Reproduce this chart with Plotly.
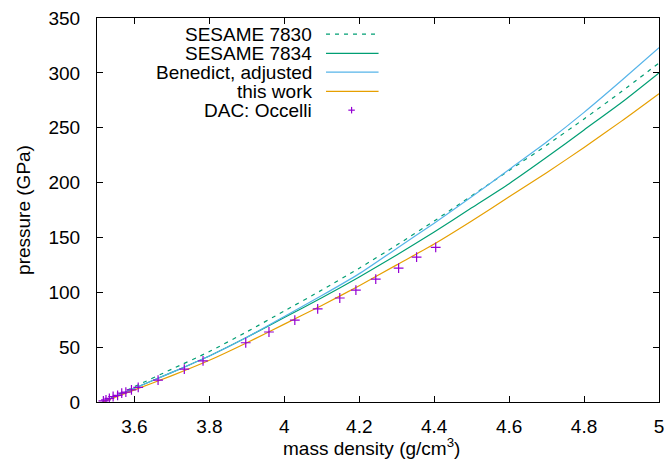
import plotly.graph_objects as go

# ---- data ----
density = [3.515, 3.6, 3.7, 3.8, 3.9, 4.0, 4.1, 4.2, 4.3, 4.4, 4.5, 4.6, 4.7, 4.8, 4.9, 5.0]
sesame_7830 = [0, 14, 30, 46, 64, 83, 102, 122, 143, 165, 188, 211, 234, 258, 283, 309]
sesame_7834 = [0, 12.5, 27, 42, 59, 77, 95, 114, 134, 155, 177, 199, 223, 248, 273, 300]
benedict_adj = [0, 12.5, 27, 42, 59, 78, 97, 117, 140, 163, 187, 212, 237, 264, 293, 323]
this_work = [0, 11, 24, 38, 54, 71, 88, 106, 125, 144, 165, 187, 209, 232, 256, 281]

dac_density = [3.517, 3.524, 3.533, 3.543, 3.555, 3.566, 3.577, 3.592, 3.610, 3.663,
               3.733, 3.783, 3.897, 3.959, 4.028, 4.089, 4.148, 4.191, 4.244, 4.305,
               4.353, 4.404]
dac_pressure = [1, 2, 3.3, 5, 6, 8, 9, 11, 13.4, 20, 30, 37.4, 54, 63.8, 74.7, 84.8,
                94.8, 102, 112, 122, 132, 141]

x_tickvals = [3.6, 3.8, 4.0, 4.2, 4.4, 4.6, 4.8, 5.0]
x_ticktext = ["3.6", "3.8", "4", "4.2", "4.4", "4.6", "4.8", "5"]
y_tickvals = [0, 50, 100, 150, 200, 250, 300, 350]

x_title = "mass density (g/cm<sup>3</sup>)"
y_title = "pressure (GPa)"
legend_labels = ["SESAME 7830", "SESAME 7834", "Benedict, adjusted", "this work", "DAC: Occelli"]

GREEN = "#009e73"
BLUE = "#56b4e9"
ORANGE = "#e69f00"
PURPLE = "#9400d3"
FONT = "Liberation Sans, Arial, Helvetica, sans-serif"
FS = 19

fig = go.Figure()
fig.add_trace(go.Scatter(x=density, y=sesame_7830, mode="lines",
                         line=dict(color=GREEN, width=1.2, dash="4px,5px", shape="spline", smoothing=0.6),
                         showlegend=False))
fig.add_trace(go.Scatter(x=density, y=sesame_7834, mode="lines",
                         line=dict(color=GREEN, width=1.2, shape="spline", smoothing=0.6),
                         showlegend=False))
fig.add_trace(go.Scatter(x=density, y=benedict_adj, mode="lines",
                         line=dict(color=BLUE, width=1.2, shape="spline", smoothing=0.6),
                         showlegend=False))
fig.add_trace(go.Scatter(x=density, y=this_work, mode="lines",
                         line=dict(color=ORANGE, width=1.2, shape="spline", smoothing=0.6),
                         showlegend=False))
fig.add_trace(go.Scatter(x=dac_density, y=dac_pressure, mode="markers",
                         marker=dict(symbol="cross-thin", size=7, line=dict(color=PURPLE, width=1.2)),
                         showlegend=False))

# ---- gnuplot-style key (text right-aligned, sample on the right) ----
row_y = [0.958, 0.908, 0.859, 0.809, 0.760]
styles = [dict(color=GREEN, dash="4px,5px"), dict(color=GREEN, dash="solid"),
          dict(color=BLUE, dash="solid"), dict(color=ORANGE, dash="solid"), None]
for lbl, yy, st in zip(legend_labels, row_y, styles):
    fig.add_annotation(x=0.386, y=yy, xref="paper", yref="paper", text=lbl,
                       showarrow=False, xanchor="right", yanchor="middle",
                       font=dict(family=FONT, size=FS, color="black"))
    if st is not None:
        fig.add_shape(type="line", xref="paper", yref="paper", x0=0.4075, x1=0.501,
                      y0=yy, y1=yy, line=dict(color=st["color"], width=1.2, dash=st["dash"]))
    else:
        cx = 0.453
        fig.add_shape(type="line", xref="paper", yref="paper", x0=cx - 0.0058, x1=cx + 0.0058,
                      y0=yy, y1=yy, line=dict(color=PURPLE, width=1.2))
        fig.add_shape(type="line", xref="paper", yref="paper", x0=cx, x1=cx,
                      y0=yy - 0.0085, y1=yy + 0.0085, line=dict(color=PURPLE, width=1.2))

# x-axis title placed as in the reference
fig.add_annotation(x=0.488, y=-0.117, xref="paper", yref="paper", text=x_title,
                   showarrow=False, xanchor="center", yanchor="middle",
                   font=dict(family=FONT, size=FS, color="black"))

axis_common = dict(showline=True, linecolor="black", linewidth=1, mirror="allticks",
                   ticks="inside", ticklen=6, tickcolor="black", tickwidth=1,
                   showgrid=False, zeroline=False, automargin=False,
                   tickfont=dict(family=FONT, size=FS, color="black"))

fig.update_layout(
    width=667, height=464,
    margin=dict(l=97, r=8, t=18, b=62, autoexpand=False),
    paper_bgcolor="white", plot_bgcolor="white",
    font=dict(family=FONT, size=FS, color="black"),
    xaxis=dict(range=[3.5, 5.0], tickvals=x_tickvals, ticktext=x_ticktext,
               ticklabelstandoff=7, **axis_common),
    yaxis=dict(range=[0, 350], tickvals=y_tickvals,
               ticklabelstandoff=12,
               title=dict(text=y_title, standoff=12,
                          font=dict(family=FONT, size=FS)),
               **axis_common),
)

fig.write_html("out.html",
               config=dict(displayModeBar=False, responsive=False),
               post_script="document.body.style.margin='0';document.body.style.overflow='hidden';")
